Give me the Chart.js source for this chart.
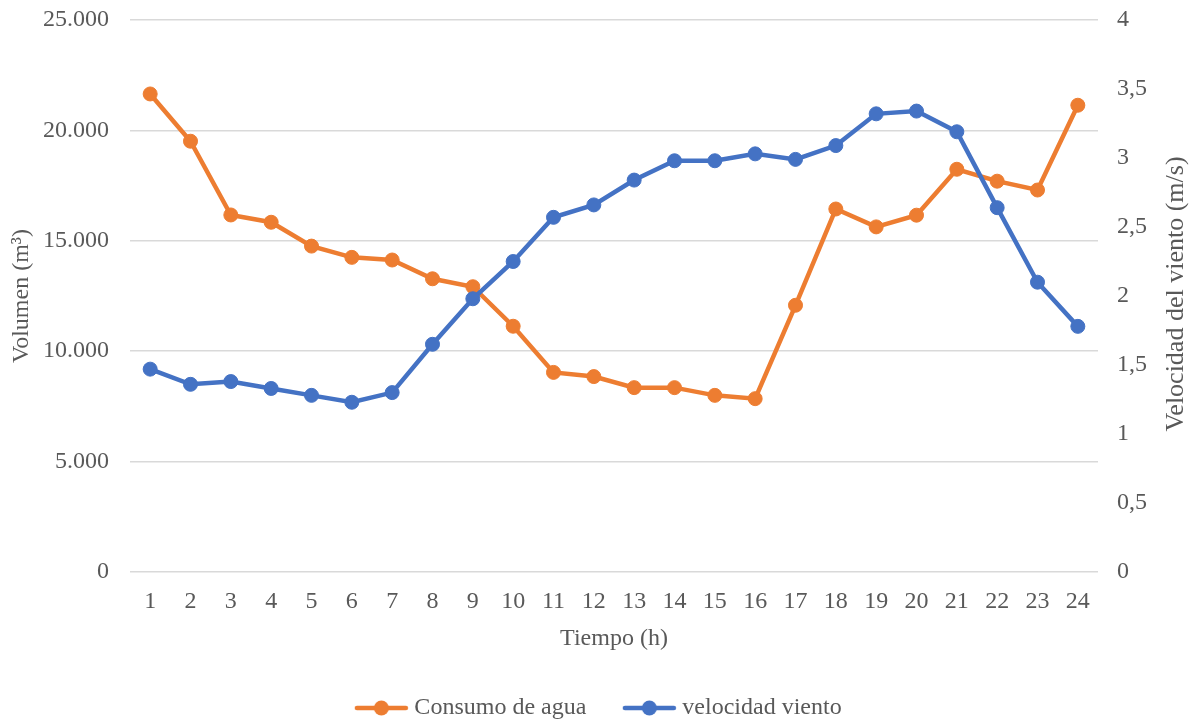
<!DOCTYPE html>
<html lang="es">
<head>
<meta charset="utf-8">
<title>Consumo de agua y velocidad del viento</title>
<script src="https://cdn.jsdelivr.net/npm/chart.js@4/dist/chart.umd.min.js"></script>
<style>
  html, body { margin: 0; padding: 0; background: #ffffff; }
  #wrap { width: 1190px; height: 722px; position: relative; }
  canvas { display: block; }
</style>
</head>
<body>
<div id="wrap"><canvas id="chart" width="1190" height="722"></canvas></div>
<script>
// Hours of the day (x categories)
const horas = ['1','2','3','4','5','6','7','8','9','10','11','12',
               '13','14','15','16','17','18','19','20','21','22','23','24'];

// Water consumption per hour, m³ (left axis)
const consumoAgua = [21650, 19510, 16170, 15840, 14760, 14250, 14130, 13280,
                     12920, 11130, 9040, 8850, 8350, 8350, 8000, 7850,
                     12080, 16440, 15630, 16160, 18240, 17700, 17300, 21140];

// Wind speed per hour, m/s (right axis)
const velocidadViento = [1.47, 1.36, 1.38, 1.33, 1.28, 1.23, 1.30, 1.65,
                         1.98, 2.25, 2.57, 2.66, 2.84, 2.98, 2.98, 3.03,
                         2.99, 3.09, 3.32, 3.34, 3.19, 2.64, 2.10, 1.78];

// Axis ranges
const volumenMax = 25000, volumenPaso = 5000;
const vientoMax = 4, vientoPaso = 0.5;

const NARANJA = '#ED7D31';
const AZUL = '#4472C4';
const TEXTO = '#595959';
const REJILLA = '#d9d9d9';
const FUENTE = "'Liberation Serif', 'Times New Roman', serif";

// Legend marker: a short line with a dot in the middle
function iconoLeyenda(color) {
  const c = document.createElement('canvas');
  c.width = 55; c.height = 16;
  const g = c.getContext('2d');
  g.strokeStyle = color;
  g.lineWidth = 4.5;
  g.lineCap = 'round';
  g.beginPath(); g.moveTo(3, 8); g.lineTo(52, 8); g.stroke();
  g.fillStyle = color;
  g.beginPath(); g.arc(27.5, 8, 7.5, 0, Math.PI * 2); g.fill();
  return c;
}

// Right-hand axis title, written bottom-to-top
const tituloDerecho = {
  id: 'tituloDerecho',
  afterDraw(chart) {
    const {ctx, chartArea} = chart;
    ctx.save();
    ctx.font = '26px ' + FUENTE;
    ctx.fillStyle = TEXTO;
    ctx.textAlign = 'center';
    ctx.textBaseline = 'middle';
    ctx.translate(1176, (chartArea.top + chartArea.bottom) / 2 - 2);
    ctx.rotate(-Math.PI / 2);
    ctx.fillText('Velocidad del viento (m/s)', 0, 0);
    ctx.restore();
  }
};

const fmtMiles = v => v === 0 ? '0' : v.toLocaleString('de-DE');
const fmtComa = v => String(v).replace('.', ',');

// Vertical axes: fixed width, and no extra room above/below the plot
function ajusteVertical(ancho) {
  return scale => {
    scale.width = ancho;
    scale.paddingTop = 0;
    scale.paddingBottom = 0;
  };
}

new Chart(document.getElementById('chart'), {
  type: 'line',
  data: {
    labels: horas,
    datasets: [
      {
        label: 'Consumo de agua',
        data: consumoAgua,
        yAxisID: 'y',
        borderColor: NARANJA,
        backgroundColor: NARANJA,
        borderWidth: 4.5,
        pointStyle: 'circle',
        pointRadius: 7,
        pointBorderWidth: 1,
        pointBackgroundColor: NARANJA,
        pointBorderColor: NARANJA,
        tension: 0,
        order: 2
      },
      {
        label: 'velocidad viento',
        data: velocidadViento,
        yAxisID: 'y1',
        borderColor: AZUL,
        backgroundColor: AZUL,
        borderWidth: 4.5,
        pointStyle: 'circle',
        pointRadius: 7,
        pointBorderWidth: 1,
        pointBackgroundColor: AZUL,
        pointBorderColor: AZUL,
        tension: 0,
        order: 1
      }
    ]
  },
  options: {
    responsive: false,
    animation: false,
    layout: { padding: { top: 20, bottom: -8, left: 12, right: 0 } },
    plugins: {
      tooltip: { enabled: false },
      legend: {
        position: 'bottom',
        labels: {
          usePointStyle: true,
          pointStyleWidth: 42,
          padding: 42,
          color: TEXTO,
          font: { family: FUENTE, size: 24 },
          generateLabels(chart) {
            return chart.data.datasets.map((ds, i) => ({
              text: ds.label,
              fillStyle: ds.borderColor,
              strokeStyle: ds.borderColor,
              lineWidth: 0,
              pointStyle: iconoLeyenda(ds.borderColor),
              hidden: false,
              datasetIndex: i,
              fontColor: TEXTO
            }));
          }
        }
      }
    },
    scales: {
      x: {
        offset: true,
        grid: { display: false, drawTicks: false },
        border: { display: false },
        ticks: { color: TEXTO, font: { family: FUENTE, size: 24 }, padding: 15, maxRotation: 0, autoSkip: false },
        title: { display: true, text: 'Tiempo (h)', color: TEXTO, font: { family: FUENTE, size: 24 }, padding: { top: 0, bottom: 1 } },
        afterFit(scale) { scale.height = 82; }
      },
      y: {
        position: 'left',
        min: 0, max: volumenMax,
        grid: { color: REJILLA, lineWidth: 1.5, drawTicks: false },
        border: { display: false },
        ticks: { stepSize: volumenPaso, color: TEXTO, font: { family: FUENTE, size: 24 }, padding: 21, callback: v => fmtMiles(v) },
        title: { display: true, text: 'Volumen (m³)', color: TEXTO, font: { family: FUENTE, size: 24 }, padding: { top: -5, bottom: 0 } },
        afterFit: ajusteVertical(118)
      },
      y1: {
        position: 'right',
        min: 0, max: vientoMax,
        grid: { display: false, drawTicks: false, drawOnChartArea: false },
        border: { display: false },
        ticks: { stepSize: vientoPaso, color: TEXTO, font: { family: FUENTE, size: 24 }, padding: 19, callback: v => fmtComa(v) },
        afterFit: ajusteVertical(92)
      }
    }
  },
  plugins: [tituloDerecho]
});
</script>
</body>
</html>
